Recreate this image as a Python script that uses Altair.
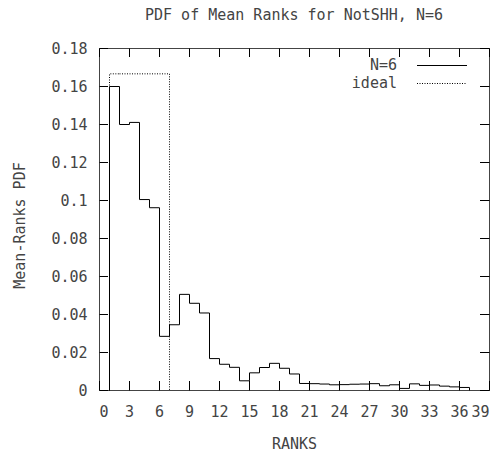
import altair as alt
import pandas as pd

# Mean-rank PDF for NotSHH, N=6 (one value per rank bin, bins start at rank 1)
ranks = list(range(1, 37))
pdf_n6 = [0.1600, 0.1400, 0.1411, 0.1005, 0.0962, 0.0285, 0.0346, 0.0506, 0.0459, 0.0408,
          0.0168, 0.0138, 0.0122, 0.0051, 0.0093, 0.0121, 0.0143, 0.0117, 0.0087, 0.0037,
          0.0036, 0.0034, 0.0030, 0.0031, 0.0033, 0.0034, 0.0036, 0.0025, 0.0030, 0.0011,
          0.0035, 0.0027, 0.0029, 0.0023, 0.0019, 0.0016]

# Ideal distribution: uniform over the first six ranks
ideal_ranks = [1, 2, 3, 4, 5, 6]
ideal_pdf = [1 / 6] * 6

x_ticks = list(range(0, 40, 3))
y_ticks = [0, 0.02, 0.04, 0.06, 0.08, 0.1, 0.12, 0.14, 0.16, 0.18]

X_MIN, X_MAX = 0, 39
Y_MIN, Y_MAX = 0, 0.18
# 10 px per rank and 38 px per 0.02 keep every tick on a whole pixel
W, H = 390, 342
LEFT, TOP = 99, 48
TICK_PX = 9
FONT = "DejaVu Sans Mono"
INK = "#444444"
FS = 15


def step_path(xs, ys):
    """Histogram outline: rise from zero at the first bin, fall to zero after the last."""
    px = [xs[0]] + list(xs) + [xs[-1] + 1]
    py = [0.0] + list(ys) + [0.0]
    return pd.DataFrame({"rank": px, "pdf": py, "i": range(len(px))})


xs = alt.Scale(domain=[X_MIN, X_MAX], nice=False, zero=False)
ys = alt.Scale(domain=[Y_MIN, Y_MAX], nice=False)

x_axis = alt.Axis(values=x_ticks, tickCount=len(x_ticks), title="RANKS",
                  titleX=W / 2, titleY=53, titleBaseline="middle",
                  labelPadding=14, labelOverlap=False)
y_axis = alt.Axis(values=y_ticks, tickCount=len(y_ticks), format="~g",
                  title="Mean-Ranks PDF", titleX=-80, titleY=H / 2 + 6,
                  titleBaseline="middle", labelPadding=12, labelOverlap=False)

# half-pixel offsets put 1 px strokes exactly on the pixel grid
crisp = dict(xOffset=0.5, yOffset=0.5)

ideal = alt.Chart(step_path(ideal_ranks, ideal_pdf)).mark_line(
    interpolate="step-after", color="black", strokeWidth=1, strokeDash=[1, 1.5], **crisp
).encode(x=alt.X("rank:Q", scale=xs, axis=x_axis),
         y=alt.Y("pdf:Q", scale=ys, axis=y_axis), order="i:Q")

n6 = alt.Chart(step_path(ranks, pdf_n6)).mark_line(
    interpolate="step-after", color="black", strokeWidth=1, **crisp
).encode(x=alt.X("rank:Q", scale=xs), y=alt.Y("pdf:Q", scale=ys), order="i:Q")

# Inward tick marks on all four sides of the frame (length converted to data units)
dy = TICK_PX / H * (Y_MAX - Y_MIN)
dx = TICK_PX / W * (X_MAX - X_MIN)
xt = pd.DataFrame({
    "rank": x_ticks,
    "b0": [Y_MIN] * len(x_ticks), "b1": [Y_MIN + dy] * len(x_ticks),
    "t0": [Y_MAX] * len(x_ticks), "t1": [Y_MAX - dy] * len(x_ticks),
})
yt = pd.DataFrame({
    "pdf": y_ticks,
    "l0": [X_MIN] * len(y_ticks), "l1": [X_MIN + dx] * len(y_ticks),
    "r0": [X_MAX] * len(y_ticks), "r1": [X_MAX - dx] * len(y_ticks),
})
tick = dict(color="black", strokeWidth=1, **crisp)
ticks_bottom = alt.Chart(xt).mark_rule(**tick).encode(
    x=alt.X("rank:Q", scale=xs), y=alt.Y("b0:Q", scale=ys), y2="b1")
ticks_top = alt.Chart(xt).mark_rule(**tick).encode(
    x=alt.X("rank:Q", scale=xs), y=alt.Y("t0:Q", scale=ys), y2="t1")
ticks_left = alt.Chart(yt).mark_rule(**tick).encode(
    y=alt.Y("pdf:Q", scale=ys), x=alt.X("l0:Q", scale=xs), x2="l1")
ticks_right = alt.Chart(yt).mark_rule(**tick).encode(
    y=alt.Y("pdf:Q", scale=ys), x=alt.X("r0:Q", scale=xs), x2="r1")

# Key in the upper right: label, then line sample
key_src = pd.DataFrame({"k": [0]})
key_n6_text = alt.Chart(key_src).mark_text(
    align="right", baseline="middle", font=FONT, fontSize=FS, color=INK
).encode(x=alt.value(298), y=alt.value(17), text=alt.value("N=6"))
key_n6_line = alt.Chart(key_src).mark_rule(color="black", strokeWidth=1).encode(
    x=alt.value(318), x2=alt.value(368), y=alt.value(17.5))
key_ideal_text = alt.Chart(key_src).mark_text(
    align="right", baseline="middle", font=FONT, fontSize=FS, color=INK
).encode(x=alt.value(298), y=alt.value(35), text=alt.value("ideal"))
key_ideal_line = alt.Chart(key_src).mark_rule(
    color="black", strokeWidth=1, strokeDash=[1, 1.5]
).encode(x=alt.value(318), x2=alt.value(368), y=alt.value(35.5))

chart = alt.layer(
    ideal, n6, ticks_bottom, ticks_top, ticks_left, ticks_right,
    key_n6_text, key_n6_line, key_ideal_text, key_ideal_line,
).properties(
    width=W, height=H,
    title=alt.TitleParams("PDF of Mean Ranks for NotSHH, N=6", font=FONT, fontSize=FS,
                          fontWeight="normal", color=INK, offset=18),
    autosize=alt.AutoSizeParams(type="none"),
    padding={"left": LEFT, "top": TOP, "right": 502 - LEFT - W, "bottom": 456 - TOP - H},
    background="white",
).configure_view(
    stroke=INK, strokeWidth=1
).configure_axis(
    domain=False, ticks=False, grid=False,
    labelFont=FONT, labelFontSize=FS, labelColor=INK,
    titleFont=FONT, titleFontSize=FS, titleColor=INK, titleFontWeight="normal",
)

chart.save("out.html", embed_options={"renderer": "svg", "actions": False})
